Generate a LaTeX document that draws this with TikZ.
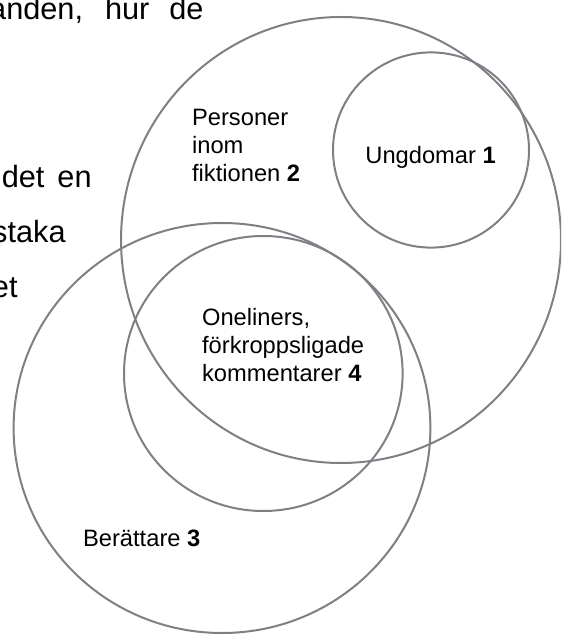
\documentclass[tikz,border=0pt]{standalone}
\usepackage{fontspec}
\setmainfont{Liberation Sans}
\usepackage{xcolor}
\definecolor{vennLine}{HTML}{7E8085}
\tikzset{
  pagetext/.style={anchor=base east, inner sep=0, font=\fontsize{15.35}{18}\selectfont},
  setlabel/.style={anchor=base west, inner sep=0, align=left, font=\fontsize{11.85}{14.17}\selectfont},
  vennset/.style={vennLine, line width=1pt}
}

\begin{document}
\begin{tikzpicture}[x=0.5pt, y=-0.5pt]
  \clip (0,0) rectangle (561,635);
  \fill[white] (0,0) rectangle (561,635);
  % text of the page behind the figure
  \node[pagetext] (pageA) at (204,19.4) {anden,\hspace{11pt}hur\hspace{10pt}de};
  \node[pagetext] (pageB) at (92,188) {det\hspace{6.5pt}en};
  \node[pagetext] (pageC) at (66,242.5) {staka};
  \node[pagetext] (pageD) at (18,298) {et};
  % the four sets
  \draw[vennset] (341,240) ellipse [x radius=220, y radius=223];
  \draw[vennset] (431,150) ellipse [x radius=98, y radius=97.6];
  \draw[vennset] (222,428) ellipse [x radius=208.4, y radius=205];
  \draw[vennset] (263.3,373.5) ellipse [x radius=139.3, y radius=137.5];
  % labels (base = last line)
  \node[setlabel] (fiction) at (191.7,181.7) {Personer\\inom\\fiktionen \textbf{2}};
  \node[setlabel] (youth) at (365,163.3) {Ungdomar \textbf{1}};
  \node[setlabel] (oneliners) at (201.7,381.7) {Oneliners,\\förkroppsligade\\kommentarer \textbf{4}};
  \node[setlabel] (narrator) at (82.7,546) {Berättare \textbf{3}};
\end{tikzpicture}
\end{document}
